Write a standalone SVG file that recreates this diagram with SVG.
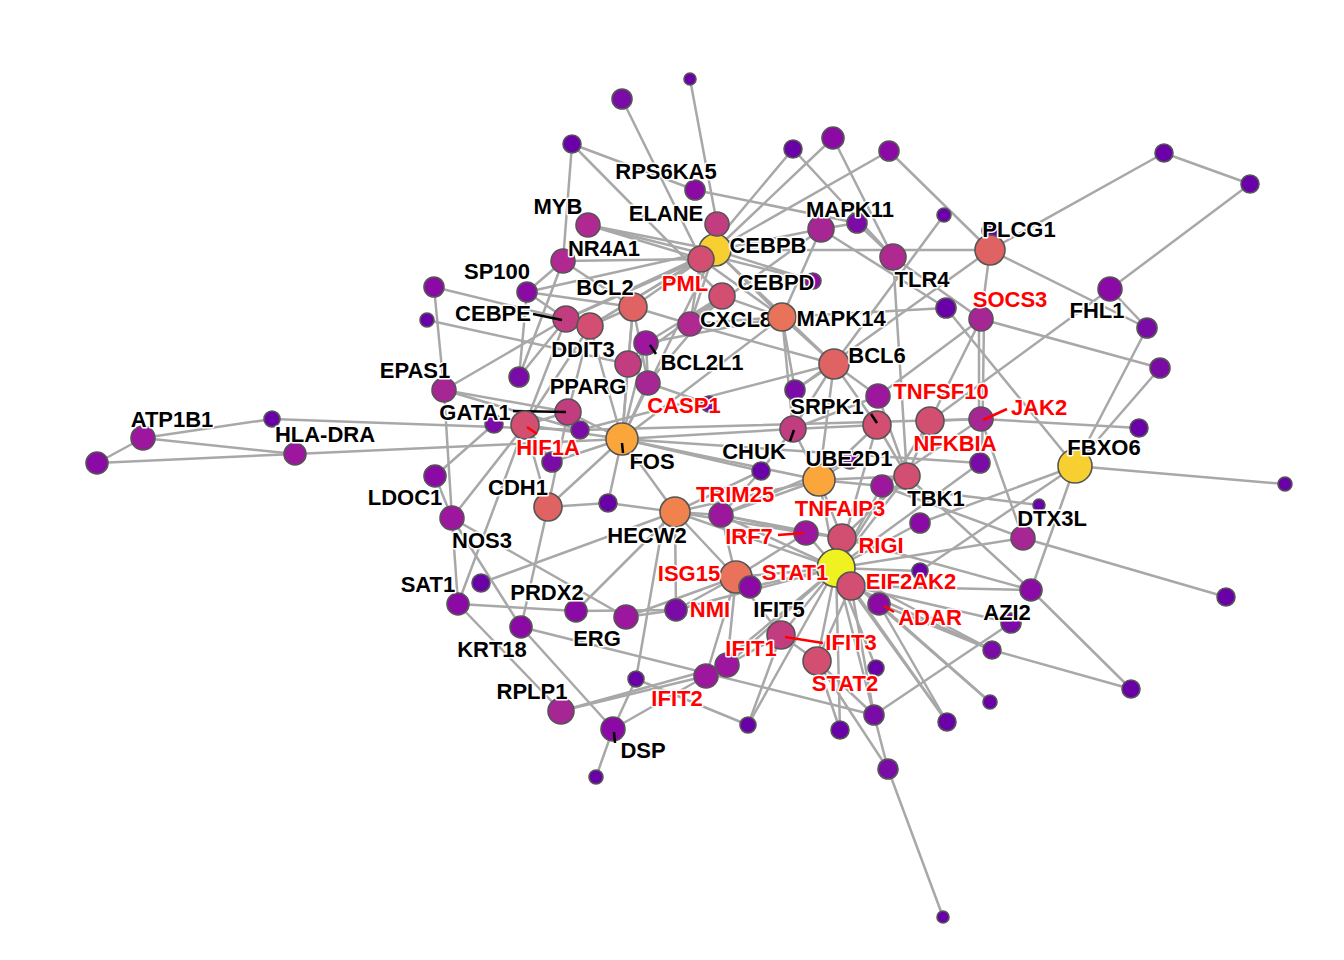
<svg xmlns="http://www.w3.org/2000/svg" width="1344" height="960" viewBox="0 0 1344 960">
<style>
.e line{stroke:#a8a8a8;stroke-width:2.5;stroke-linecap:round}
circle{stroke:#555;stroke-width:1.6}
text{font-family:"Liberation Sans",Arial,sans-serif;font-weight:bold;font-size:22px;text-anchor:middle;paint-order:stroke;stroke:#fff;stroke-width:3;stroke-linejoin:round}
.k{fill:#000}.r{fill:#f00}
.lk{stroke:#000;stroke-width:2.5}.lr{stroke:#f00;stroke-width:2.5}
.c0{fill:#6a00a8}.c1{fill:#7a0ba6}.c2{fill:#8b0aa5}.c3{fill:#9c179e}.c4{fill:#a62694}.c5{fill:#b02991}.c6{fill:#c23d80}.c7{fill:#d24f71}.c8{fill:#e06363}.c9{fill:#f0834d}.cs{fill:#e8735a}.c10{fill:#fba63a}.cy{fill:#f8cf30}.cy2{fill:#f0f121}
</style>
<rect width="1344" height="960" fill="#fff"/>
<g id="connectors" class="e">
<line x1="97" y1="463" x2="143" y2="438"/><line x1="97" y1="463" x2="295" y2="454"/><line x1="143" y1="438" x2="272" y2="419"/><line x1="143" y1="438" x2="295" y2="454"/>
<line x1="272" y1="419" x2="580" y2="430"/><line x1="295" y1="454" x2="622" y2="439"/><line x1="434" y1="287" x2="444" y2="390"/><line x1="434" y1="287" x2="566" y2="319"/>
<line x1="427" y1="320" x2="628" y2="364"/><line x1="444" y1="390" x2="566" y2="319"/><line x1="444" y1="390" x2="568" y2="412"/><line x1="444" y1="390" x2="452" y2="518"/>
<line x1="444" y1="390" x2="580" y2="430"/><line x1="435" y1="476" x2="494" y2="424"/><line x1="435" y1="476" x2="452" y2="518"/><line x1="452" y1="518" x2="525" y2="425"/>
<line x1="452" y1="518" x2="458" y2="604"/><line x1="452" y1="518" x2="521" y2="627"/><line x1="452" y1="518" x2="626" y2="617"/><line x1="525" y1="425" x2="458" y2="604"/>
<line x1="548" y1="507" x2="521" y2="627"/><line x1="548" y1="507" x2="608" y2="503"/><line x1="608" y1="503" x2="675" y2="512"/><line x1="481" y1="583" x2="675" y2="512"/>
<line x1="458" y1="604" x2="576" y2="611"/><line x1="576" y1="611" x2="676" y2="610"/><line x1="576" y1="611" x2="675" y2="512"/><line x1="626" y1="617" x2="676" y2="610"/>
<line x1="521" y1="627" x2="874" y2="715"/><line x1="521" y1="627" x2="613" y2="729"/><line x1="458" y1="604" x2="561" y2="711"/><line x1="561" y1="711" x2="727" y2="665"/>
<line x1="561" y1="711" x2="706" y2="676"/><line x1="613" y1="729" x2="706" y2="676"/><line x1="613" y1="729" x2="596" y2="777"/><line x1="636" y1="679" x2="665" y2="512"/>
<line x1="636" y1="679" x2="748" y2="725"/><line x1="748" y1="725" x2="836" y2="568"/><line x1="613" y1="729" x2="636" y2="679"/><line x1="548" y1="507" x2="622" y2="439"/>
<line x1="548" y1="507" x2="568" y2="412"/><line x1="552" y1="462" x2="622" y2="439"/><line x1="552" y1="462" x2="525" y2="425"/><line x1="519" y1="377" x2="563" y2="261"/>
<line x1="690" y1="79" x2="717" y2="224"/><line x1="622" y1="99" x2="701" y2="259"/><line x1="572" y1="144" x2="563" y2="261"/><line x1="572" y1="144" x2="695" y2="190"/>
<line x1="695" y1="190" x2="857" y2="223"/><line x1="572" y1="144" x2="722" y2="296"/><line x1="588" y1="225" x2="715" y2="250"/><line x1="588" y1="225" x2="813" y2="281"/>
<line x1="588" y1="225" x2="701" y2="259"/><line x1="563" y1="261" x2="701" y2="259"/><line x1="563" y1="261" x2="527" y2="292"/><line x1="563" y1="261" x2="633" y2="307"/>
<line x1="527" y1="292" x2="715" y2="250"/><line x1="527" y1="292" x2="633" y2="307"/><line x1="527" y1="292" x2="566" y2="319"/><line x1="527" y1="292" x2="519" y2="377"/>
<line x1="715" y1="250" x2="833" y2="138"/><line x1="715" y1="250" x2="889" y2="151"/><line x1="715" y1="250" x2="990" y2="250"/><line x1="715" y1="250" x2="821" y2="229"/>
<line x1="715" y1="250" x2="782" y2="317"/><line x1="715" y1="250" x2="834" y2="364"/><line x1="715" y1="250" x2="690" y2="324"/><line x1="715" y1="250" x2="566" y2="319"/>
<line x1="715" y1="250" x2="590" y2="326"/><line x1="715" y1="250" x2="633" y2="307"/><line x1="715" y1="250" x2="622" y2="439"/><line x1="715" y1="250" x2="813" y2="281"/>
<line x1="701" y1="259" x2="566" y2="319"/><line x1="701" y1="259" x2="590" y2="326"/><line x1="701" y1="259" x2="690" y2="324"/><line x1="701" y1="259" x2="782" y2="317"/>
<line x1="793" y1="149" x2="701" y2="259"/><line x1="793" y1="149" x2="893" y2="257"/><line x1="833" y1="138" x2="893" y2="257"/><line x1="889" y1="151" x2="990" y2="250"/>
<line x1="821" y1="229" x2="857" y2="223"/><line x1="857" y1="223" x2="893" y2="257"/><line x1="821" y1="229" x2="782" y2="317"/><line x1="821" y1="229" x2="690" y2="324"/>
<line x1="821" y1="229" x2="946" y2="308"/><line x1="944" y1="215" x2="834" y2="364"/><line x1="990" y1="250" x2="795" y2="390"/><line x1="990" y1="250" x2="981" y2="319"/>
<line x1="990" y1="250" x2="1147" y2="328"/><line x1="990" y1="250" x2="1164" y2="153"/><line x1="1164" y1="153" x2="1250" y2="184"/><line x1="1250" y1="184" x2="1110" y2="289"/>
<line x1="1110" y1="289" x2="1147" y2="328"/><line x1="1110" y1="289" x2="930" y2="421"/><line x1="1147" y1="328" x2="1075" y2="466"/><line x1="1160" y1="368" x2="1075" y2="466"/>
<line x1="1160" y1="368" x2="981" y2="319"/><line x1="1139" y1="428" x2="981" y2="419"/><line x1="1285" y1="484" x2="1075" y2="466"/>
<line x1="1075" y1="466" x2="946" y2="308"/><line x1="1075" y1="466" x2="920" y2="523"/><line x1="1075" y1="466" x2="920" y2="571"/><line x1="1075" y1="466" x2="1031" y2="590"/>
<line x1="979" y1="319" x2="979" y2="419"/><line x1="984" y1="319" x2="982" y2="463"/><line x1="893" y1="257" x2="981" y2="319"/><line x1="893" y1="257" x2="907" y2="476"/>
<line x1="981" y1="319" x2="930" y2="421"/><line x1="981" y1="319" x2="878" y2="396"/><line x1="946" y1="308" x2="782" y2="317"/><line x1="981" y1="419" x2="930" y2="421"/>
<line x1="981" y1="419" x2="882" y2="486"/><line x1="981" y1="419" x2="1023" y2="538"/><line x1="834" y1="364" x2="782" y2="317"/><line x1="834" y1="364" x2="795" y2="390"/>
<line x1="834" y1="364" x2="793" y2="429"/><line x1="834" y1="364" x2="877" y2="425"/><line x1="834" y1="364" x2="819" y2="480"/><line x1="834" y1="364" x2="878" y2="396"/>
<line x1="834" y1="364" x2="690" y2="324"/><line x1="834" y1="364" x2="580" y2="430"/><line x1="782" y1="317" x2="690" y2="324"/><line x1="782" y1="317" x2="795" y2="390"/>
<line x1="782" y1="317" x2="793" y2="429"/><line x1="782" y1="317" x2="646" y2="343"/><line x1="782" y1="317" x2="722" y2="296"/><line x1="782" y1="317" x2="622" y2="439"/>
<line x1="722" y1="296" x2="690" y2="324"/><line x1="722" y1="296" x2="646" y2="343"/><line x1="722" y1="296" x2="628" y2="364"/><line x1="722" y1="296" x2="648" y2="383"/>
<line x1="633" y1="307" x2="590" y2="326"/><line x1="633" y1="307" x2="628" y2="364"/><line x1="633" y1="307" x2="648" y2="383"/><line x1="633" y1="307" x2="622" y2="439"/>
<line x1="633" y1="307" x2="690" y2="324"/><line x1="590" y1="326" x2="566" y2="319"/><line x1="590" y1="326" x2="568" y2="412"/><line x1="590" y1="326" x2="525" y2="425"/>
<line x1="590" y1="326" x2="622" y2="439"/><line x1="566" y1="319" x2="525" y2="425"/><line x1="566" y1="319" x2="519" y2="377"/><line x1="646" y1="343" x2="628" y2="364"/>
<line x1="646" y1="343" x2="648" y2="383"/><line x1="646" y1="343" x2="622" y2="439"/><line x1="628" y1="364" x2="622" y2="439"/><line x1="648" y1="383" x2="622" y2="439"/>
<line x1="648" y1="383" x2="709" y2="404"/><line x1="568" y1="412" x2="622" y2="439"/><line x1="568" y1="412" x2="525" y2="425"/><line x1="568" y1="412" x2="580" y2="430"/>
<line x1="525" y1="425" x2="622" y2="439"/><line x1="525" y1="425" x2="548" y2="507"/><line x1="622" y1="439" x2="608" y2="503"/><line x1="622" y1="439" x2="675" y2="512"/>
<line x1="622" y1="439" x2="793" y2="429"/><line x1="622" y1="439" x2="819" y2="480"/><line x1="622" y1="439" x2="761" y2="471"/><line x1="622" y1="439" x2="980" y2="463"/>
<line x1="580" y1="430" x2="981" y2="419"/><line x1="795" y1="390" x2="793" y2="429"/><line x1="793" y1="429" x2="877" y2="425"/><line x1="793" y1="429" x2="819" y2="480"/>
<line x1="793" y1="429" x2="761" y2="471"/><line x1="793" y1="429" x2="878" y2="396"/><line x1="877" y1="425" x2="907" y2="476"/>
<line x1="877" y1="425" x2="819" y2="480"/><line x1="877" y1="425" x2="836" y2="568"/><line x1="819" y1="480" x2="850" y2="460"/><line x1="819" y1="480" x2="842" y2="538"/>
<line x1="819" y1="480" x2="836" y2="568"/><line x1="819" y1="480" x2="721" y2="515"/><line x1="819" y1="480" x2="675" y2="512"/><line x1="819" y1="480" x2="882" y2="486"/>
<line x1="819" y1="480" x2="907" y2="476"/><line x1="761" y1="471" x2="675" y2="512"/><line x1="761" y1="471" x2="721" y2="515"/><line x1="907" y1="476" x2="836" y2="568"/>
<line x1="907" y1="476" x2="842" y2="538"/><line x1="882" y1="486" x2="836" y2="568"/><line x1="920" y1="523" x2="836" y2="568"/><line x1="980" y1="463" x2="836" y2="568"/>
<line x1="930" y1="421" x2="836" y2="568"/><line x1="930" y1="421" x2="907" y2="476"/><line x1="878" y1="396" x2="907" y2="476"/>
<line x1="836" y1="568" x2="806" y2="533"/><line x1="836" y1="568" x2="842" y2="538"/><line x1="836" y1="568" x2="851" y2="586"/><line x1="836" y1="568" x2="879" y2="604"/>
<line x1="836" y1="568" x2="736" y2="577"/><line x1="836" y1="568" x2="750" y2="587"/><line x1="836" y1="568" x2="676" y2="610"/><line x1="836" y1="568" x2="781" y2="635"/>
<line x1="836" y1="568" x2="727" y2="665"/><line x1="836" y1="568" x2="706" y2="676"/><line x1="836" y1="568" x2="817" y2="661"/><line x1="836" y1="568" x2="876" y2="668"/>
<line x1="836" y1="568" x2="874" y2="715"/><line x1="836" y1="568" x2="840" y2="730"/><line x1="836" y1="568" x2="947" y2="722"/><line x1="836" y1="568" x2="990" y2="702"/>
<line x1="836" y1="568" x2="992" y2="650"/><line x1="836" y1="568" x2="1023" y2="538"/><line x1="836" y1="568" x2="675" y2="512"/><line x1="836" y1="568" x2="721" y2="515"/>
<line x1="836" y1="568" x2="920" y2="571"/><line x1="851" y1="586" x2="1031" y2="590"/><line x1="851" y1="586" x2="992" y2="650"/><line x1="851" y1="586" x2="947" y2="722"/>
<line x1="851" y1="586" x2="874" y2="715"/><line x1="879" y1="604" x2="990" y2="702"/><line x1="879" y1="604" x2="947" y2="722"/><line x1="1011" y1="623" x2="874" y2="715"/>
<line x1="851" y1="586" x2="1011" y2="623"/><line x1="879" y1="604" x2="992" y2="650"/><line x1="992" y1="650" x2="1131" y2="689"/><line x1="1031" y1="590" x2="1131" y2="689"/>
<line x1="1023" y1="538" x2="1226" y2="597"/><line x1="907" y1="476" x2="1031" y2="590"/><line x1="842" y1="538" x2="1031" y2="590"/><line x1="1023" y1="538" x2="882" y2="486"/>
<line x1="882" y1="486" x2="1039" y2="505"/><line x1="806" y1="533" x2="736" y2="577"/><line x1="806" y1="533" x2="721" y2="515"/><line x1="806" y1="533" x2="675" y2="512"/>
<line x1="806" y1="533" x2="842" y2="538"/><line x1="736" y1="577" x2="675" y2="512"/><line x1="736" y1="577" x2="750" y2="587"/><line x1="736" y1="577" x2="676" y2="610"/>
<line x1="736" y1="577" x2="721" y2="515"/><line x1="736" y1="577" x2="781" y2="635"/><line x1="736" y1="577" x2="727" y2="665"/><line x1="736" y1="577" x2="706" y2="676"/>
<line x1="736" y1="577" x2="626" y2="617"/><line x1="727" y1="665" x2="706" y2="676"/><line x1="727" y1="665" x2="781" y2="635"/><line x1="781" y1="635" x2="817" y2="661"/>
<line x1="781" y1="635" x2="748" y2="725"/><line x1="817" y1="661" x2="840" y2="730"/><line x1="817" y1="661" x2="888" y2="769"/><line x1="817" y1="661" x2="874" y2="715"/>
<line x1="817" y1="661" x2="851" y2="586"/><line x1="888" y1="769" x2="874" y2="715"/><line x1="888" y1="769" x2="943" y2="917"/><line x1="675" y1="512" x2="721" y2="515"/>
<line x1="675" y1="512" x2="676" y2="610"/><line x1="721" y1="515" x2="842" y2="538"/><line x1="721" y1="515" x2="850" y2="460"/>
</g>
<g id="n-u1"><circle class="c0" cx="690" cy="79" r="6"/></g>
<g id="n-u2"><circle class="c1" cx="622" cy="99" r="10"/></g>
<g id="n-u3"><circle class="c0" cx="572" cy="144" r="9"/></g>
<g id="n-u4"><circle class="c0" cx="793" cy="149" r="9"/></g>
<g id="n-u5"><circle class="c2" cx="833" cy="138" r="11"/></g>
<g id="n-u6"><circle class="c2" cx="889" cy="151" r="10"/></g>
<g id="n-u7"><circle class="c0" cx="944" cy="215" r="7"/></g>
<g id="n-u8"><circle class="c1" cx="857" cy="223" r="10"/></g>
<g id="n-u9"><circle class="c0" cx="990" cy="231" r="8"/></g>
<g id="n-u10"><circle class="c2" cx="813" cy="281" r="8"/></g>
<g id="n-u11"><circle class="c0" cx="946" cy="308" r="10"/></g>
<g id="n-u12"><circle class="c0" cx="1164" cy="153" r="9"/></g>
<g id="n-u13"><circle class="c0" cx="1250" cy="184" r="9"/></g>
<g id="n-u14"><circle class="c1" cx="1147" cy="328" r="10"/></g>
<g id="n-u15"><circle class="c1" cx="1160" cy="368" r="10"/></g>
<g id="n-u16"><circle class="c0" cx="1139" cy="428" r="9"/></g>
<g id="n-u17"><circle class="c0" cx="1285" cy="484" r="7"/></g>
<g id="n-u18"><circle class="c2" cx="434" cy="287" r="10"/></g>
<g id="n-u19"><circle class="c0" cx="427" cy="320" r="7"/></g>
<g id="n-u20"><circle class="c1" cx="519" cy="377" r="10"/></g>
<g id="n-u21"><circle class="c1" cx="494" cy="424" r="9"/></g>
<g id="n-u23"><circle class="c1" cx="552" cy="462" r="10"/></g>
<g id="n-u24"><circle class="c0" cx="272" cy="419" r="8"/></g>
<g id="n-u25"><circle class="c2" cx="97" cy="463" r="11"/></g>
<g id="n-u26"><circle class="c0" cx="608" cy="503" r="9"/></g>
<g id="n-u27"><circle class="c6" cx="628" cy="364" r="13"/></g>
<g id="n-u28"><circle class="c1" cx="709" cy="404" r="8"/></g>
<g id="n-u29"><circle class="c1" cx="795" cy="390" r="10"/></g>
<g id="n-u30"><circle class="c0" cx="761" cy="471" r="9"/></g>
<g id="n-u31"><circle class="c1" cx="850" cy="460" r="9"/></g>
<g id="n-u33"><circle class="c7" cx="930" cy="421" r="14"/></g>
<g id="n-u34"><circle class="c1" cx="980" cy="463" r="10"/></g>
<g id="n-u35"><circle class="c7" cx="907" cy="476" r="13"/></g>
<g id="n-u36"><circle class="c3" cx="882" cy="486" r="11"/></g>
<g id="n-u38"><circle class="c0" cx="1039" cy="505" r="6"/></g>
<g id="n-u39"><circle class="c0" cx="920" cy="571" r="8"/></g>
<g id="n-u41"><circle class="c0" cx="876" cy="668" r="8"/></g>
<g id="n-u42"><circle class="c1" cx="874" cy="715" r="10"/></g>
<g id="n-u43"><circle class="c0" cx="840" cy="730" r="9"/></g>
<g id="n-u44"><circle class="c0" cx="748" cy="725" r="8"/></g>
<g id="n-u45"><circle class="c1" cx="888" cy="769" r="10"/></g>
<g id="n-u46"><circle class="c0" cx="943" cy="917" r="6"/></g>
<g id="n-u47"><circle class="c0" cx="947" cy="722" r="9"/></g>
<g id="n-u48"><circle class="c0" cx="990" cy="702" r="7"/></g>
<g id="n-u49"><circle class="c1" cx="992" cy="650" r="9"/></g>
<g id="n-u50"><circle class="c0" cx="1131" cy="689" r="9"/></g>
<g id="n-u51"><circle class="c2" cx="1031" cy="590" r="11"/></g>
<g id="n-u53"><circle class="c0" cx="1226" cy="597" r="9"/></g>
<g id="n-u54"><circle class="c0" cx="481" cy="583" r="9"/></g>
<g id="n-u55"><circle class="c3" cx="626" cy="617" r="12"/></g>
<g id="n-u56"><circle class="c0" cx="636" cy="679" r="8"/></g>
<g id="n-u57"><circle class="c0" cx="596" cy="777" r="7"/></g>
<g id="n-CEBPB"><circle class="cy" cx="715" cy="250" r="16"/><text class="k" x="768" y="253">CEBPB</text></g>
<g id="n-RPS6KA5"><circle class="c2" cx="695" cy="190" r="10"/><text class="k" x="666" y="179">RPS6KA5</text></g>
<g id="n-MYB"><circle class="c5" cx="588" cy="225" r="12"/><text class="k" x="558" y="214">MYB</text></g>
<g id="n-ELANE"><circle class="c6" cx="717" cy="224" r="12"/><text class="k" x="666" y="221">ELANE</text></g>
<g id="n-PML"><circle class="c7" cx="701" cy="259" r="13"/><text class="r" x="685" y="291">PML</text></g>
<g id="n-NR4A1"><circle class="c5" cx="563" cy="261" r="12"/><text class="k" x="604" y="256">NR4A1</text></g>
<g id="n-SP100"><circle class="c2" cx="527" cy="292" r="10"/><text class="k" x="497" y="279">SP100</text></g>
<g id="n-BCL2"><circle class="c8" cx="633" cy="307" r="14"/><text class="k" x="605" y="295">BCL2</text></g>
<g id="n-CEBPD"><circle class="c7" cx="722" cy="296" r="13"/><text class="k" x="776" y="290">CEBPD</text></g>
<g id="n-CEBPE"><circle class="c6" cx="566" cy="319" r="13"/><line class="lk" x1="533" y1="314" x2="562" y2="320"/><text class="k" x="493" y="321">CEBPE</text></g>
<g id="n-DDIT3"><circle class="c7" cx="590" cy="326" r="13"/><text class="k" x="583" y="357">DDIT3</text></g>
<g id="n-CXCL8"><circle class="c5" cx="690" cy="324" r="12"/><text class="k" x="736" y="327">CXCL8</text></g>
<g id="n-MAPK14"><circle class="cs" cx="782" cy="317" r="14"/><text class="k" x="841" y="326">MAPK14</text></g>
<g id="n-BCL2L1"><circle class="c3" cx="646" cy="343" r="12"/><line class="lk" x1="650" y1="345" x2="656" y2="354"/><text class="k" x="702" y="370">BCL2L1</text></g>
<g id="n-CASP1"><circle class="c4" cx="648" cy="383" r="12"/><text class="r" x="684" y="413">CASP1</text></g>
<g id="n-PPARG"><text class="k" x="588" y="394">PPARG</text></g>
<g id="n-GATA1"><circle class="c6" cx="568" cy="412" r="13"/><line class="lk" x1="513" y1="411" x2="566" y2="412"/><text class="k" x="475" y="420">GATA1</text></g>
<g id="n-u22"><circle class="c1" cx="580" cy="430" r="9"/></g>
<g id="n-HIF1A"><circle class="c7" cx="525" cy="425" r="14"/><line class="lr" x1="527" y1="427" x2="537" y2="434"/><text class="r" x="548" y="455">HIF1A</text></g>
<g id="n-FOS"><circle class="c10" cx="622" cy="439" r="16"/><line class="lk" x1="622" y1="443" x2="623" y2="453"/><text class="k" x="652" y="469">FOS</text></g>
<g id="n-EPAS1"><circle class="c4" cx="444" cy="390" r="12"/><text class="k" x="415" y="378">EPAS1</text></g>
<g id="n-ATP1B1"><circle class="c3" cx="143" cy="438" r="12"/><text class="k" x="172" y="427">ATP1B1</text></g>
<g id="n-HLA-DRA"><circle class="c3" cx="295" cy="454" r="11"/><text class="k" x="325" y="442">HLA-DRA</text></g>
<g id="n-LDOC1"><circle class="c2" cx="435" cy="476" r="11"/><text class="k" x="405" y="505">LDOC1</text></g>
<g id="n-NOS3"><circle class="c3" cx="452" cy="518" r="12"/><text class="k" x="482" y="548">NOS3</text></g>
<g id="n-CDH1"><circle class="c8" cx="548" cy="507" r="14"/><text class="k" x="518" y="495">CDH1</text></g>
<g id="n-HECW2"><circle class="c9" cx="675" cy="512" r="15"/><text class="k" x="647" y="543">HECW2</text></g>
<g id="n-TRIM25"><circle class="c3" cx="721" cy="515" r="12"/><text class="r" x="735" y="502">TRIM25</text></g>
<g id="n-CHUK"><circle class="c6" cx="793" cy="429" r="13"/><line class="lk" x1="790" y1="441" x2="794" y2="430"/><text class="k" x="754" y="459">CHUK</text></g>
<g id="n-BCL6"><circle class="c8" cx="834" cy="364" r="15"/><text class="k" x="877" y="363">BCL6</text></g>
<g id="n-TNFSF10"><circle class="c3" cx="878" cy="396" r="12"/><text class="r" x="941" y="399">TNFSF10</text></g>
<g id="n-SRPK1"><circle class="c7" cx="877" cy="425" r="14"/><line class="lk" x1="871" y1="414" x2="877" y2="423"/><text class="k" x="827" y="414">SRPK1</text></g>
<g id="n-UBE2D1"><circle class="c10" cx="819" cy="480" r="16"/><text class="k" x="849" y="466">UBE2D1</text></g>
<g id="n-NFKBIA"><text class="r" x="955" y="451">NFKBIA</text></g>
<g id="n-JAK2"><circle class="c4" cx="981" cy="419" r="12"/><line class="lr" x1="983" y1="420" x2="1007" y2="409"/><text class="r" x="1039" y="415">JAK2</text></g>
<g id="n-TBK1"><circle class="c2" cx="920" cy="523" r="10"/><text class="k" x="936" y="506">TBK1</text></g>
<g id="n-TNFAIP3"><circle class="c7" cx="842" cy="538" r="14"/><text class="r" x="840" y="516">TNFAIP3</text></g>
<g id="n-IRF7"><circle class="c3" cx="806" cy="533" r="12"/><line class="lr" x1="778" y1="535" x2="804" y2="533"/><text class="r" x="749" y="544">IRF7</text></g>
<g id="n-ISG15"><circle class="cs" cx="736" cy="577" r="16"/><text class="r" x="689" y="581">ISG15</text></g>
<g id="n-u40"><circle class="c2" cx="750" cy="587" r="11"/></g>
<g id="n-STAT1"><circle class="cy2" cx="836" cy="568" r="19"/><text class="r" x="795" y="580">STAT1</text></g>
<g id="n-RIGI"><text class="r" x="881" y="553">RIGI</text></g>
<g id="n-EIF2AK2"><circle class="c7" cx="851" cy="586" r="14"/><text class="r" x="911" y="589">EIF2AK2</text></g>
<g id="n-ADAR"><circle class="c2" cx="879" cy="604" r="11"/><line class="lr" x1="884" y1="606" x2="894" y2="612"/><text class="r" x="930" y="625">ADAR</text></g>
<g id="n-NMI"><circle class="c1" cx="676" cy="610" r="11"/><text class="r" x="710" y="617">NMI</text></g>
<g id="n-IFIT5"><text class="k" x="779" y="617">IFIT5</text></g>
<g id="n-IFIT3"><circle class="c6" cx="781" cy="635" r="14"/><line class="lr" x1="785" y1="637" x2="823" y2="643"/><text class="r" x="851" y="650">IFIT3</text></g>
<g id="n-IFIT1"><circle class="c3" cx="727" cy="665" r="12"/><text class="r" x="751" y="656">IFIT1</text></g>
<g id="n-IFIT2"><circle class="c3" cx="706" cy="676" r="12"/><text class="r" x="677" y="706">IFIT2</text></g>
<g id="n-STAT2"><circle class="c7" cx="817" cy="661" r="14"/><text class="r" x="845" y="691">STAT2</text></g>
<g id="n-AZI2"><circle class="c1" cx="1011" cy="623" r="10"/><text class="k" x="1007" y="620">AZI2</text></g>
<g id="n-DTX3L"><circle class="c4" cx="1023" cy="538" r="12"/><text class="k" x="1052" y="526">DTX3L</text></g>
<g id="n-FBXO6"><circle class="cy" cx="1075" cy="466" r="17"/><text class="k" x="1104" y="455">FBXO6</text></g>
<g id="n-FHL1"><circle class="c2" cx="1110" cy="289" r="12"/><text class="k" x="1097" y="318">FHL1</text></g>
<g id="n-PLCG1"><circle class="c8" cx="990" cy="250" r="15"/><text class="k" x="1019" y="237">PLCG1</text></g>
<g id="n-SOCS3"><circle class="c4" cx="981" cy="319" r="12"/><text class="r" x="1010" y="307">SOCS3</text></g>
<g id="n-TLR4"><circle class="c5" cx="893" cy="257" r="13"/><text class="k" x="922" y="287">TLR4</text></g>
<g id="n-MAPK11"><circle class="c4" cx="821" cy="229" r="13"/><text class="k" x="850" y="217">MAPK11</text></g>
<g id="n-SAT1"><circle class="c2" cx="458" cy="604" r="11"/><text class="k" x="428" y="592">SAT1</text></g>
<g id="n-PRDX2"><circle class="c2" cx="576" cy="611" r="11"/><text class="k" x="547" y="600">PRDX2</text></g>
<g id="n-ERG"><text class="k" x="597" y="646">ERG</text></g>
<g id="n-KRT18"><circle class="c2" cx="521" cy="627" r="11"/><text class="k" x="492" y="657">KRT18</text></g>
<g id="n-RPLP1"><circle class="c4" cx="561" cy="711" r="13"/><text class="k" x="532" y="699">RPLP1</text></g>
<g id="n-DSP"><circle class="c2" cx="613" cy="729" r="12"/><line class="lk" x1="614" y1="732" x2="615" y2="743"/><text class="k" x="643" y="758">DSP</text></g>
</svg>
